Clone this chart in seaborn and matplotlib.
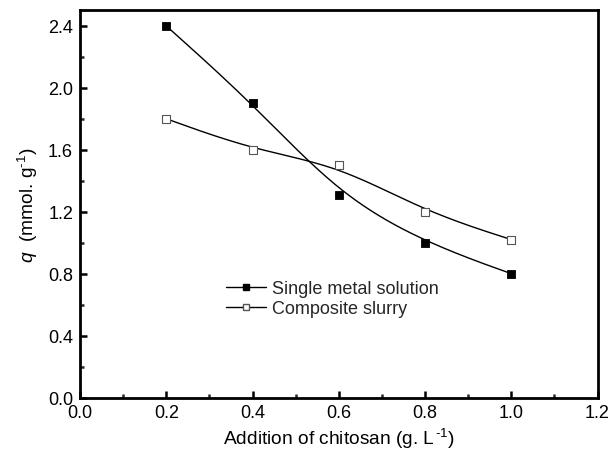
import numpy as np
import pandas as pd
import matplotlib
matplotlib.use("Agg")
import matplotlib.pyplot as plt
from matplotlib.lines import Line2D
from matplotlib.ticker import MultipleLocator
import seaborn as sns

# Chitosan dosage (g/L) and adsorption capacity q (mmol/g)
chitosan = [0.2, 0.4, 0.6, 0.8, 1.0]
q_single = [2.40, 1.90, 1.31, 1.00, 0.80]
q_slurry = [1.80, 1.60, 1.50, 1.20, 1.02]
series_names = ["Single metal solution", "Composite slurry"]


def bspline_curve(x, y, per_span=60):
    """Uniform cubic B-spline connecting line (end points repeated so the
    curve starts and ends on the first and last data point)."""
    pts = np.column_stack([np.asarray(x, float), np.asarray(y, float)])
    pts = np.vstack([pts[:1], pts[:1], pts, pts[-1:], pts[-1:]])
    t = np.linspace(0, 1, per_span, endpoint=False)
    b0 = (1 - t) ** 3 / 6
    b1 = (3 * t ** 3 - 6 * t ** 2 + 4) / 6
    b2 = (-3 * t ** 3 + 3 * t ** 2 + 3 * t + 1) / 6
    b3 = t ** 3 / 6
    segs = []
    for i in range(len(pts) - 3):
        seg = (np.outer(b0, pts[i]) + np.outer(b1, pts[i + 1])
               + np.outer(b2, pts[i + 2]) + np.outer(b3, pts[i + 3]))
        segs.append(seg)
    segs.append(pts[-1:])
    curve = np.vstack(segs)
    return curve[:, 0], curve[:, 1]


sns.set_theme(style="ticks")
plt.rcParams["font.family"] = ["Liberation Sans", "DejaVu Sans"]
plt.rcParams["mathtext.fontset"] = "custom"
plt.rcParams["mathtext.it"] = "Liberation Sans:italic"
plt.rcParams["mathtext.rm"] = "Liberation Sans"

fig, ax = plt.subplots(figsize=(6.11, 4.56), dpi=100)
fig.subplots_adjust(left=0.131, right=0.978, top=0.975, bottom=0.126)

points = pd.DataFrame({
    "chitosan": chitosan * 2,
    "q": q_single + q_slurry,
    "series": [series_names[0]] * len(chitosan) + [series_names[1]] * len(chitosan),
})

for yvals in [q_single, q_slurry]:
    xs, ys = bspline_curve(chitosan, yvals)
    sns.lineplot(x=xs, y=ys, ax=ax, color="black", lw=1.0, estimator=None,
                 sort=False, legend=False, zorder=2)

sub_single = points[points.series == series_names[0]]
sub_slurry = points[points.series == series_names[1]]
sns.scatterplot(data=sub_single, x="chitosan", y="q", ax=ax, marker="s",
                s=26, color="black", edgecolor="black", linewidth=0.6,
                legend=False, zorder=3)
sns.scatterplot(data=sub_slurry, x="chitosan", y="q", ax=ax, marker="s",
                s=26, facecolor="white", edgecolor="#555555", linewidth=0.8,
                legend=False, zorder=3)

ax.set_xlim(0.0, 1.2)
ax.set_ylim(0.0, 2.5)
ax.xaxis.set_major_locator(MultipleLocator(0.2))
ax.xaxis.set_minor_locator(MultipleLocator(0.1))
ax.yaxis.set_major_locator(MultipleLocator(0.4))
ax.yaxis.set_minor_locator(MultipleLocator(0.2))
ax.set_xticklabels([f"{v:.1f}" for v in ax.get_xticks()])
ax.set_yticklabels([f"{v:.1f}" for v in ax.get_yticks()])

ax.tick_params(which="major", direction="in", length=5, width=1.8,
               labelsize=13, pad=5, colors="black", top=False, right=False)
ax.tick_params(which="minor", direction="in", length=3, width=1.8,
               top=False, right=False)
for sp in ax.spines.values():
    sp.set_visible(True)
    sp.set_linewidth(2.0)
    sp.set_color("black")

ax.set_xlabel(r"Addition of chitosan (g. L$^{\,\text{-1}}$)", fontsize=13.8,
              labelpad=3, color="black")
ax.set_ylabel(r"$q$  (mmol. g$^{\text{-1}}$)", fontsize=13.8, labelpad=6,
              color="black")

handles = [
    Line2D([], [], color="black", lw=1.0, marker="s", markersize=5,
           markerfacecolor="black", markeredgecolor="black"),
    Line2D([], [], color="black", lw=1.0, marker="s", markersize=5,
           markerfacecolor="white", markeredgecolor="#555555"),
]
ax.legend(handles, series_names, loc="center left",
          bbox_to_anchor=(0.268, 0.255), frameon=False, fontsize=13,
          handlelength=2.2, handletextpad=0.35, labelspacing=0.15,
          borderaxespad=0)

fig.savefig("out.png", dpi=100)
